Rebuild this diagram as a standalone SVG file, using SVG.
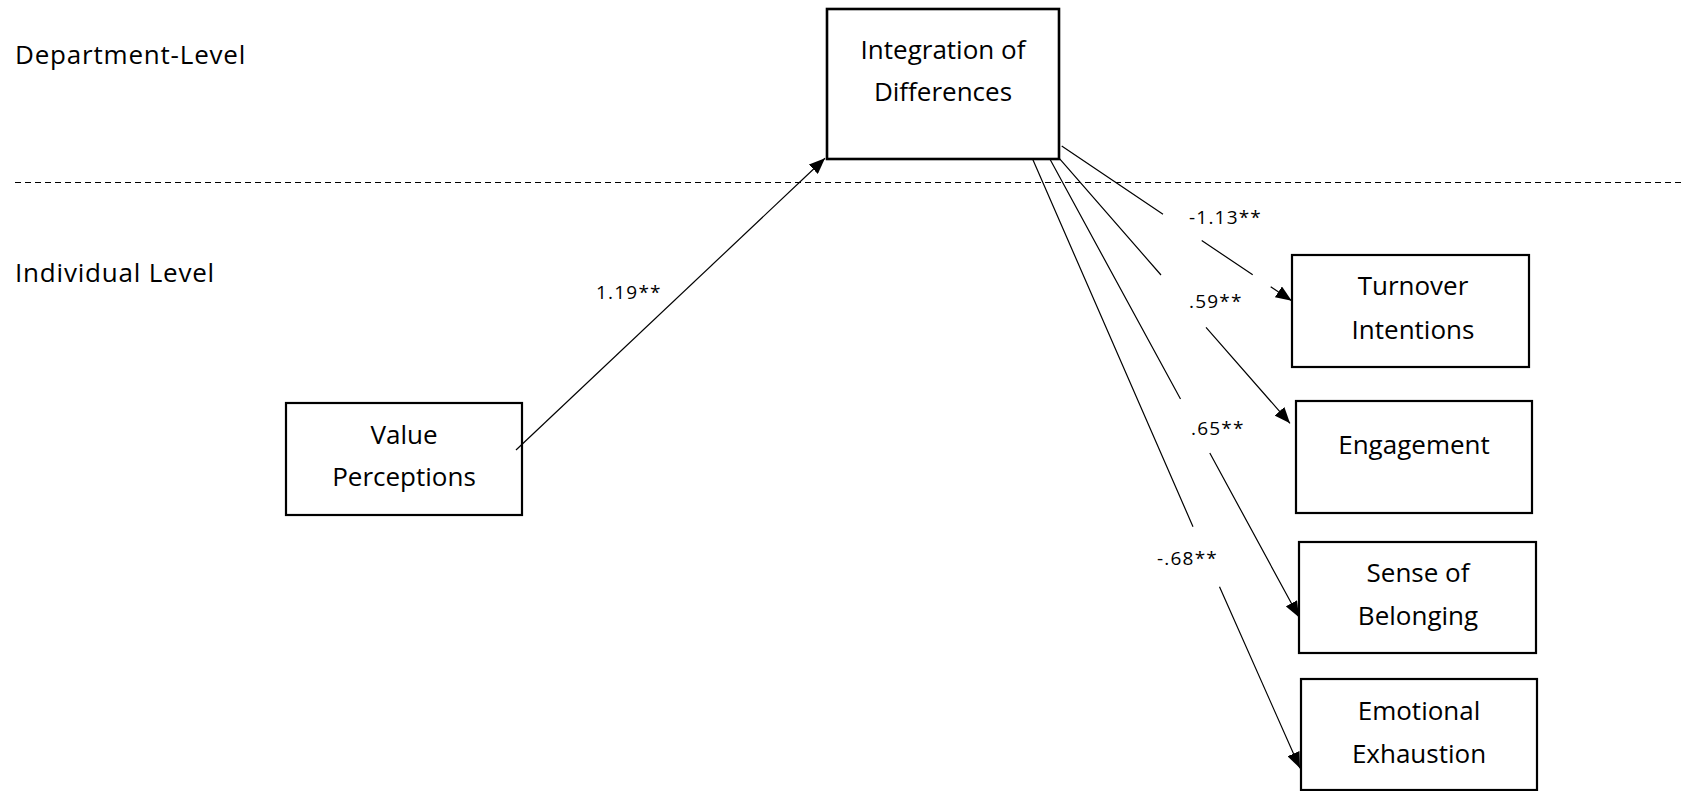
<svg xmlns="http://www.w3.org/2000/svg" width="1685" height="791" viewBox="0 0 1685 791">
<style>
  .box { fill: #ffffff; stroke: #000000; stroke-width: 2.2; }
  .node { font-family: "Open Sans", "Noto Sans", sans-serif; font-size: 26px; fill: #000000; text-anchor: middle; }
  .level { font-family: "Open Sans", "Noto Sans", sans-serif; font-size: 26px; fill: #000000; letter-spacing: 0.8px; }
  .lbl { font-family: "Open Sans", "Noto Sans", sans-serif; font-size: 19px; fill: #000000; letter-spacing: 1.2px; }
  .conn { fill: none; stroke: #000000; stroke-width: 1.2; }
  .divider { stroke: #000000; stroke-width: 1.2; stroke-dasharray: 6 4; }
</style>
<defs>
  <marker id="arrow" viewBox="0 0 16 13" refX="16" refY="6.5" markerWidth="16" markerHeight="13" markerUnits="userSpaceOnUse" orient="auto">
    <path d="M0,0 L16,6.5 L0,13 Z" fill="#000000"/>
  </marker>
</defs>
<rect width="1685" height="791" fill="#ffffff"/>

<g id="levels">
  <text class="level" x="15" y="64">Department-Level</text>
  <text class="level" x="15" y="282">Individual Level</text>
  <line class="divider" x1="15" y1="182.5" x2="1685" y2="182.5"/>
</g>

<g id="integration">
  <rect class="box" x="827" y="9" width="232" height="150" style="stroke-width:2.6"/>
  <text class="node" x="943" y="59">Integration of</text>
  <text class="node" x="943" y="101">Differences</text>
</g>

<g id="value">
  <rect class="box" x="286" y="403" width="236" height="112"/>
  <text class="node" x="404" y="444">Value</text>
  <text class="node" x="404" y="486">Perceptions</text>
</g>

<g id="turnover">
  <rect class="box" x="1292" y="255" width="237" height="112"/>
  <text class="node" x="1413" y="295">Turnover</text>
  <text class="node" x="1413" y="339">Intentions</text>
</g>

<g id="engagement">
  <rect class="box" x="1296" y="401" width="236" height="112"/>
  <text class="node" x="1414" y="454">Engagement</text>
</g>

<g id="belonging">
  <rect class="box" x="1299" y="542" width="237" height="111"/>
  <text class="node" x="1418" y="582">Sense of</text>
  <text class="node" x="1418" y="625">Belonging</text>
</g>

<g id="exhaustion">
  <rect class="box" x="1301" y="679" width="236" height="111"/>
  <text class="node" x="1419" y="720">Emotional</text>
  <text class="node" x="1419" y="763">Exhaustion</text>
</g>

<g id="connectors">
  <path class="conn" d="M516,450 L825,158.3" marker-end="url(#arrow)"/>
  <path class="conn" d="M1061.7,146 L1163,214.2 M1201.7,240.5 L1252.7,274.8 M1270.7,286.8 L1291.7,300.7" marker-end="url(#arrow)"/>
  <path class="conn" d="M1059.3,158.3 L1161,275 M1206,327.3 L1290,423.3" marker-end="url(#arrow)"/>
  <path class="conn" d="M1050,159.3 L1180.5,399 M1209.8,453 L1299,617.3" marker-end="url(#arrow)"/>
  <path class="conn" d="M1032.7,159.3 L1193,526.7 M1219.5,586.7 L1300,768.3" marker-end="url(#arrow)"/>
  <text class="lbl" x="596" y="299">1.19**</text>
  <text class="lbl" x="1189" y="224">-1.13**</text>
  <text class="lbl" x="1189" y="308">.59**</text>
  <text class="lbl" x="1191" y="435">.65**</text>
  <text class="lbl" x="1157" y="565">-.68**</text>
</g>
</svg>
